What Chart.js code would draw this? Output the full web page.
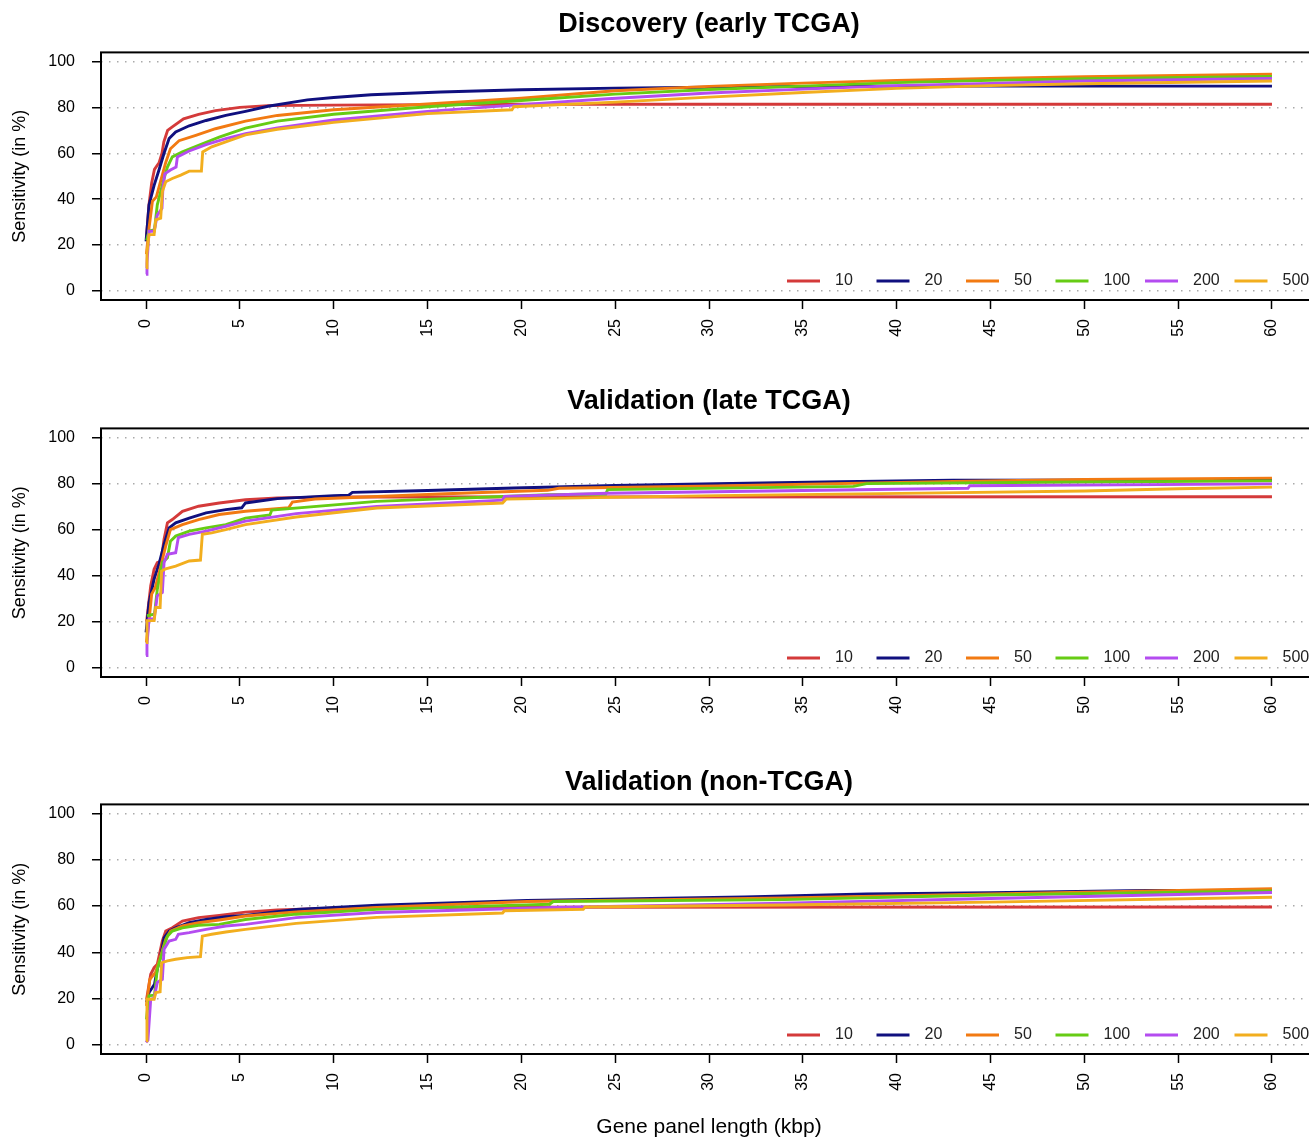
<!DOCTYPE html>
<html>
<head>
<meta charset="utf-8">
<script src="https://cdn.jsdelivr.net/npm/chart.js@4.4.0/dist/chart.umd.min.js"></script>
<style>
  html, body { margin: 0; padding: 0; background: #fff; overflow: hidden; width: 1309px; height: 1138px; }
  canvas { position: absolute; left: 0; }
</style>
</head>
<body>
<canvas id="c0" width="1422" height="376" style="top:0px"></canvas>
<canvas id="c1" width="1422" height="376" style="top:376px"></canvas>
<canvas id="c2" width="1422" height="388" style="top:752px"></canvas>
<script>
const FONT = '"Liberation Sans", Arial, Helvetica, sans-serif';

// legend labels (panel sizes) and tick values
const seriesLabels = ['10', '20', '50', '100', '200', '500'];
const seriesColors = ['#d43a3a', '#10107f', '#f27a12', '#66cc14', '#b44cf0', '#f2ae1e'];
const xTicks = [0, 5, 10, 15, 20, 25, 30, 35, 40, 45, 50, 55, 60];
const yTicks = [0, 20, 40, 60, 80, 100];
const titles = ['Discovery (early TCGA)', 'Validation (late TCGA)', 'Validation (non-TCGA)'];

// Discovery (early TCGA): [kbp, sensitivity %]
const disc10 = [[0.03,24],[0.15,37],[0.3,47],[0.45,53],[0.7,56],[0.85,60],[0.95,65],[1.15,70],[1.4,71.5],[2,75],[2.8,77],[3.7,78.6],[5,80],[6.5,80.8],[10,81],[15,81.2],[20,81.4],[60,81.4]];
const disc20 = [[0,21.6],[0.16,37.5],[0.43,46],[0.69,52.7],[0.96,60],[1.23,66.4],[1.58,69.3],[2.3,72],[3.2,74.3],[4.25,76.5],[5.3,78.3],[6.5,80.5],[8.6,83.3],[10,84.3],[12,85.5],[15.7,86.7],[20,87.7],[25,88.4],[30,88.8],[37,89.3],[60,89.3]];
const disc50 = [[0.02,16],[0.16,27.4],[0.34,39],[0.55,41],[0.78,48],[1.05,56],[1.3,62],[1.76,65.5],[2.65,67.8],[3.7,70.7],[5.3,74],[7,76.5],[10,79],[15,81.5],[20,84],[25,87.3],[30,89.2],[35,90.6],[40,91.8],[45,92.6],[50,93.4],[60,94.5]];
const disc100 = [[0.03,22],[0.16,26],[0.45,26.7],[0.6,37.5],[0.96,49],[1.14,54],[1.4,58.4],[1.94,60.6],[2.8,63.5],[3.9,67],[5.3,71],[7,74],[10,77],[15,80.3],[20,83],[25,85.8],[30,87.8],[35,89.3],[40,90.8],[45,91.8],[50,92.5],[60,93.5]];
const disc200 = [[0,7.2],[0.05,12],[0.16,26],[0.43,26],[0.6,33],[0.85,36],[0.9,45],[1,51],[1.3,52.7],[1.6,54],[1.67,58.4],[2.3,61],[3.2,63.8],[4.25,66.4],[5.3,68.5],[7,71],[10,74.5],[15,78.3],[20,81.2],[24.6,83.8],[30,86.3],[35,88],[40,89.5],[45,90.5],[50,91.5],[60,92.6]];
const disc500 = [[0,10],[0.05,16.6],[0.16,24.5],[0.43,24.5],[0.52,31],[0.78,31.7],[0.87,43.3],[1.05,47.6],[1.4,49],[1.85,50.5],[2.3,52.2],[2.95,52.2],[3.02,60.6],[3.5,62.8],[4.25,65],[5.3,68],[7,70.5],[10,73.5],[15,77.3],[19.5,79],[19.6,80.3],[25,82.3],[30,84.5],[35,86.5],[40,88.3],[45,89.5],[50,90.3],[60,91.5]];

// Validation (late TCGA)
const late10 = [[0.03,20],[0.1,25],[0.25,35.6],[0.43,42.8],[0.6,45.7],[0.8,46.4],[0.96,55.8],[1.14,63],[1.4,64.4],[1.94,68],[2.8,70.2],[3.9,71.6],[5.3,73],[7,73.8],[10,74.2],[60,74.3]];
const late20 = [[0,15.4],[0.16,28.4],[0.43,38.5],[0.69,45],[0.96,53.6],[1.23,60.8],[1.58,63],[2.3,65],[3.2,67.3],[4.25,68.7],[5.1,69.5],[5.3,71.6],[7,73.5],[10,74.8],[10.8,75],[11,76.2],[15,77],[19.6,78.1],[25,79.2],[30.4,80],[37,80.8],[43,81.5],[60,81.6]];
const late50 = [[0.02,11],[0.16,20.5],[0.3,32],[0.5,35],[0.78,44],[1.05,53],[1.3,60],[1.94,62.2],[2.8,64.4],[3.9,66.6],[5.3,68],[7.6,69.5],[7.8,72],[9,73.3],[16,75.6],[21.4,77.1],[22,78],[30.4,79],[43,81],[50,81.8],[60,82.4]];
const late100 = [[0.05,22.6],[0.45,23.3],[0.6,34],[0.87,45.7],[1.14,47.8],[1.3,55],[1.58,57.2],[2.3,59.4],[3.2,60.8],[4.25,62.2],[5.3,65],[6.6,66.4],[6.7,68.5],[12.3,72.3],[21.4,75.2],[24.5,75.5],[24.6,77.4],[37.7,78.8],[38.4,80],[50,80.7],[60,81.2]];
const late200 = [[0,5.3],[0.05,10],[0.16,21.2],[0.43,21.2],[0.6,31.3],[0.87,32.7],[0.96,45.7],[1.14,49.3],[1.58,50],[1.72,56.5],[2.3,58],[3.2,59.4],[4.25,61.5],[5.3,63.7],[8,67],[12.3,70.1],[19,72.8],[19.1,74.5],[24.6,75.8],[35,77],[43.8,78],[43.9,79.1],[60,79.9]];
const late500 = [[0,11],[0.05,20.5],[0.43,20.5],[0.52,26.2],[0.75,26.2],[0.83,42],[1.05,43],[1.58,44.2],[2.3,46.4],[2.9,46.8],[3,58],[3.5,58.6],[4.25,60],[5.3,62.2],[8,65.5],[12.3,69.4],[19,71.6],[19.2,73.3],[30.4,74.8],[41.3,75.9],[50,76.8],[55,77.8],[60,78.5]];

// Validation (non-TCGA)
const non10 = [[0.03,19.7],[0.25,30.5],[0.43,33.4],[0.6,34.8],[0.87,44.9],[1.05,49.2],[1.4,50.6],[1.94,53.5],[2.8,55],[3.9,56],[5.3,57.4],[7,58.3],[10.4,59.2],[15,59.5],[60,59.6]];
const non20 = [[0.02,18.3],[0.16,22.6],[0.45,26.2],[0.6,32.7],[0.78,38.4],[0.96,46.3],[1.23,49.2],[1.58,50.6],[2.3,52.8],[3.2,54.2],[4.25,55.4],[5.3,56],[8,58.5],[12.3,60.4],[20.3,62.4],[31.9,64],[38.4,65.2],[45,65.8],[53.3,66.8],[60,66.8]];
const non50 = [[0.02,16.8],[0.2,28.3],[0.5,31.2],[0.78,38.4],[1.05,45.6],[1.3,49.2],[1.94,51.4],[2.8,52.8],[3.9,54],[5.3,55.7],[8,57.5],[12.3,59.4],[20.3,62],[34.1,63.5],[45,65.2],[60,67.5]];
const non100 = [[0.02,11],[0.16,21.2],[0.45,21.5],[0.6,32.7],[0.96,42.7],[1.14,47],[1.4,49.2],[1.94,50.6],[2.8,51.7],[3.9,52.1],[5.3,54.2],[8,56.5],[12.3,58.6],[21.5,60.8],[21.7,62],[34,62.8],[45,64.8],[60,66.6]];
const non200 = [[0,1],[0.1,2],[0.25,19.7],[0.43,20.2],[0.6,27],[0.87,28.3],[0.96,41.3],[1.23,44.9],[1.58,45.6],[1.72,47.8],[2.3,48.5],[3.2,49.9],[4.25,51.4],[5.3,52.1],[8,55],[12.3,57.2],[21.7,59.4],[34,61.3],[45,63.3],[60,65.9]];
const non500 = [[0,1.7],[0.05,19.7],[0.43,19.7],[0.52,22.6],[0.75,22.9],[0.83,35.5],[1.14,36.3],[1.58,37],[2.2,37.7],[2.9,38.1],[3,47],[3.5,47.8],[4.25,48.8],[5.3,49.9],[8,52.5],[12.3,55.1],[19,57],[19.1,58],[23.3,58.6],[23.4,59.6],[34,60.5],[45,61.7],[60,63.8]];

const panels = [
  { id: 'c0', title: titles[0], series: [disc10, disc20, disc50, disc100, disc200, disc500], titlePad: { top: 8, bottom: 12 }, xHeight: 76, xTitle: false },
  { id: 'c1', title: titles[1], series: [late10, late20, late50, late100, late200, late500], titlePad: { top: 9, bottom: 11 }, xHeight: 75, xTitle: false },
  { id: 'c2', title: titles[2], series: [non10, non20, non50, non100, non200, non500], titlePad: { top: 14, bottom: 6 }, xHeight: 86, xTitle: true }
];

// box round the plot region + legend inside, like R's box() and legend()
const boxLegend = {
  id: 'boxLegend',
  afterDraw(chart) {
    const { ctx, chartArea: a } = chart;
    ctx.save();
    ctx.strokeStyle = '#000';
    ctx.lineWidth = 2;
    ctx.strokeRect(a.left, a.top, a.right - a.left, a.bottom - a.top);
    const y = a.bottom - 19;
    ctx.font = '16px ' + FONT;
    ctx.textBaseline = 'middle';
    ctx.textAlign = 'left';
    chart.data.datasets.forEach((ds, i) => {
      const x0 = a.right - 530 + i * 89.5;
      ctx.strokeStyle = ds.borderColor;
      ctx.lineWidth = 3;
      ctx.beginPath();
      ctx.moveTo(x0, y);
      ctx.lineTo(x0 + 33, y);
      ctx.stroke();
      ctx.fillStyle = '#222';
      ctx.fillText(ds.label, x0 + 48, y);
    });
    ctx.restore();
  }
};

panels.forEach(p => {
  new Chart(document.getElementById(p.id), {
    type: 'line',
    data: {
      datasets: p.series.map((pts, i) => ({
        label: seriesLabels[i],
        data: pts.map(([x, y]) => ({ x, y })),
        borderColor: seriesColors[i],
        backgroundColor: seriesColors[i],
        borderWidth: 2.9,
        pointRadius: 0,
        tension: 0,
        fill: false,
        order: seriesLabels.length - 1 - i
      }))
    },
    options: {
      responsive: false,
      animation: false,
      devicePixelRatio: 1,
      layout: { padding: { left: 0, right: 105, top: 0, bottom: 0 } },
      plugins: {
        legend: { display: false },
        tooltip: { enabled: false },
        title: {
          display: true,
          text: p.title,
          fullSize: false,
          color: '#000',
          font: { size: 27, weight: 'bold', family: FONT },
          padding: p.titlePad
        }
      },
      scales: {
        x: {
          type: 'linear',
          min: -2.4,
          max: 62.4,
          afterBuildTicks: s => { s.ticks = xTicks.map(v => ({ value: v })); },
          afterFit: s => { s.height = p.xHeight; },
          border: { display: false },
          grid: { drawOnChartArea: false, drawTicks: true, tickLength: 9, tickColor: '#000', tickWidth: 1.5 },
          ticks: { autoSkip: false, minRotation: 90, maxRotation: 90, padding: 10, color: '#000', font: { size: 16, family: FONT } },
          title: { display: p.xTitle, text: 'Gene panel length (kbp)', color: '#000', font: { size: 21, family: FONT }, padding: { top: 0, bottom: 0 } }
        },
        y: {
          min: -4,
          max: 104,
          afterBuildTicks: s => { s.ticks = yTicks.map(v => ({ value: v })); },
          afterFit: s => { s.width = 101; },
          border: { display: false, dash: [1.5, 6.5] },
          grid: { color: '#aaaaaa', lineWidth: 1.5, tickLength: 9, tickColor: '#000', tickWidth: 1.5, tickBorderDash: [] },
          ticks: { padding: 17, color: '#000', font: { size: 16, family: FONT } },
          title: { display: true, text: 'Sensitivity (in %)', color: '#000', font: { size: 18, family: FONT }, padding: { top: 9, bottom: 0 } }
        }
      }
    },
    plugins: [boxLegend]
  });
});
</script>
</body>
</html>
